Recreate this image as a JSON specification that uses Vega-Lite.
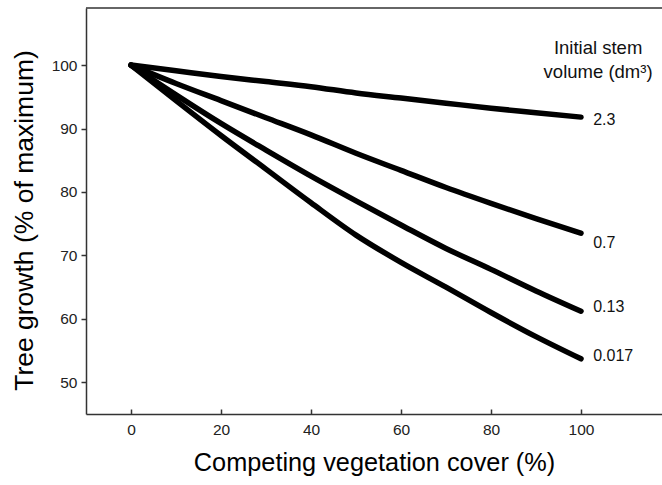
{
  "$schema": "https://vega.github.io/schema/vega-lite/v6.json",
  "width": 576,
  "height": 406,
  "autosize": {"type": "none"},
  "padding": {"left": 86, "top": 8, "right": 0, "bottom": 71},
  "background": "white",
  "config": {"view": {"stroke": null}, "font": "Liberation Sans"},
  "layer": [
    {
      "data": {"values": [
        {"volume": "2.3", "cover": 0, "growth": 100},
        {"volume": "2.3", "cover": 10, "growth": 99.1},
        {"volume": "2.3", "cover": 20, "growth": 98.2},
        {"volume": "2.3", "cover": 30, "growth": 97.4},
        {"volume": "2.3", "cover": 40, "growth": 96.6},
        {"volume": "2.3", "cover": 50, "growth": 95.6},
        {"volume": "2.3", "cover": 60, "growth": 94.8},
        {"volume": "2.3", "cover": 70, "growth": 94.0},
        {"volume": "2.3", "cover": 80, "growth": 93.2},
        {"volume": "2.3", "cover": 90, "growth": 92.5},
        {"volume": "2.3", "cover": 100, "growth": 91.8},
        {"volume": "0.7", "cover": 0, "growth": 100},
        {"volume": "0.7", "cover": 10, "growth": 97.1},
        {"volume": "0.7", "cover": 20, "growth": 94.4},
        {"volume": "0.7", "cover": 30, "growth": 91.7},
        {"volume": "0.7", "cover": 40, "growth": 89.0},
        {"volume": "0.7", "cover": 50, "growth": 86.1},
        {"volume": "0.7", "cover": 60, "growth": 83.4},
        {"volume": "0.7", "cover": 70, "growth": 80.7},
        {"volume": "0.7", "cover": 80, "growth": 78.2},
        {"volume": "0.7", "cover": 90, "growth": 75.8},
        {"volume": "0.7", "cover": 100, "growth": 73.5},
        {"volume": "0.13", "cover": 0, "growth": 100},
        {"volume": "0.13", "cover": 10, "growth": 95.3},
        {"volume": "0.13", "cover": 20, "growth": 90.8},
        {"volume": "0.13", "cover": 30, "growth": 86.6},
        {"volume": "0.13", "cover": 40, "growth": 82.5},
        {"volume": "0.13", "cover": 50, "growth": 78.6},
        {"volume": "0.13", "cover": 60, "growth": 74.8},
        {"volume": "0.13", "cover": 70, "growth": 71.1},
        {"volume": "0.13", "cover": 80, "growth": 67.8},
        {"volume": "0.13", "cover": 90, "growth": 64.4},
        {"volume": "0.13", "cover": 100, "growth": 61.2},
        {"volume": "0.017", "cover": 0, "growth": 100},
        {"volume": "0.017", "cover": 10, "growth": 94.4},
        {"volume": "0.017", "cover": 20, "growth": 88.9},
        {"volume": "0.017", "cover": 30, "growth": 83.6},
        {"volume": "0.017", "cover": 40, "growth": 78.3},
        {"volume": "0.017", "cover": 50, "growth": 73.2},
        {"volume": "0.017", "cover": 60, "growth": 68.9},
        {"volume": "0.017", "cover": 70, "growth": 65.0},
        {"volume": "0.017", "cover": 80, "growth": 61.0},
        {"volume": "0.017", "cover": 90, "growth": 57.2},
        {"volume": "0.017", "cover": 100, "growth": 53.7}
      ]},
      "mark": {"type": "line", "color": "black", "strokeWidth": 5.5, "strokeCap": "round", "strokeJoin": "round", "interpolate": "monotone"},
      "encoding": {
        "x": {
          "field": "cover", "type": "quantitative",
          "scale": {"domain": [-10, 118], "nice": false, "zero": false},
          "axis": {
            "title": "Competing vegetation cover (%)",
            "values": [0, 20, 40, 60, 80, 100],
            "grid": false,
            "domainColor": "#333", "domainWidth": 1.5,
            "tickColor": "#333", "tickWidth": 1.5, "tickSize": -5,
            "labelFontSize": 15.5, "labelColor": "#222", "labelPadding": 13,
            "titleFontSize": 25.3, "titleFontWeight": "normal", "titleColor": "#000", "titlePadding": 13
          }
        },
        "y": {
          "field": "growth", "type": "quantitative",
          "scale": {"domain": [45, 109], "nice": false, "zero": false},
          "axis": {
            "title": "Tree growth (% of maximum)",
            "values": [50, 60, 70, 80, 90, 100],
            "grid": false,
            "domainColor": "#333", "domainWidth": 1.5,
            "tickColor": "#333", "tickWidth": 1.5, "tickSize": 5,
            "labelFontSize": 15.5, "labelColor": "#222", "labelPadding": 4,
            "titleFontSize": 26.5, "titleFontWeight": "normal", "titleColor": "#000", "titlePadding": 13,
            "titleY": 212
          }
        },
        "detail": {"field": "volume", "type": "nominal"}
      }
    },
    {
      "data": {"values": [
        {"label": "2.3", "lx": 102.7, "ly": 91.3},
        {"label": "0.7", "lx": 102.7, "ly": 72.0},
        {"label": "0.13", "lx": 102.7, "ly": 61.9},
        {"label": "0.017", "lx": 102.7, "ly": 54.1}
      ]},
      "mark": {"type": "text", "align": "left", "baseline": "middle", "fontSize": 16, "color": "#111"},
      "encoding": {
        "x": {"field": "lx", "type": "quantitative"},
        "y": {"field": "ly", "type": "quantitative"},
        "text": {"field": "label", "type": "nominal"}
      }
    },
    {
      "data": {"values": [
        {"line": "Initial stem", "tx": 103.8, "ty": 102.7},
        {"line": "volume (dm³)", "tx": 103.8, "ty": 98.9}
      ]},
      "mark": {"type": "text", "align": "center", "baseline": "middle", "fontSize": 18.5, "color": "#111"},
      "encoding": {
        "x": {"field": "tx", "type": "quantitative"},
        "y": {"field": "ty", "type": "quantitative"},
        "text": {"field": "line", "type": "nominal"}
      }
    },
    {
      "data": {"values": [{"edge": 109}]},
      "mark": {"type": "rule", "color": "#333", "strokeWidth": 1.5},
      "encoding": {"y": {"field": "edge", "type": "quantitative"}}
    }
  ]
}
